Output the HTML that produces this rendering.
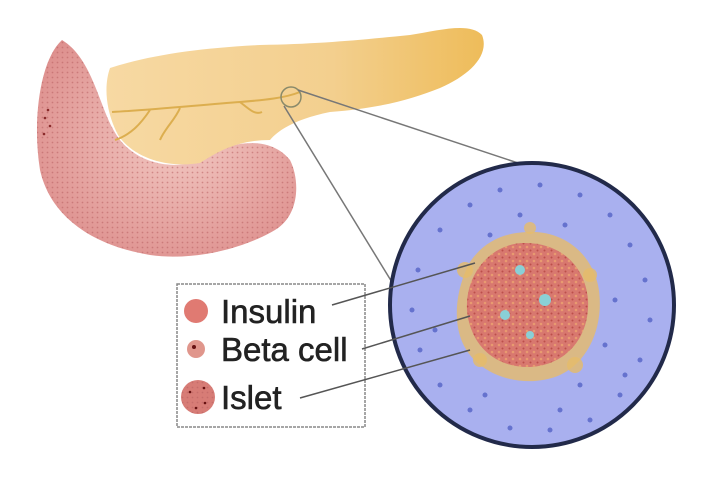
<!DOCTYPE html>
<html><head><style>
html,body{margin:0;padding:0;background:#fff;}
svg{display:block}
text{font-family:"Liberation Sans",sans-serif;fill:#222;stroke:#222;stroke-width:0.6}
</style></head><body>
<svg width="714" height="490" viewBox="0 0 714 490" xmlns="http://www.w3.org/2000/svg">
<defs>
<pattern id="dots" width="5" height="5" patternUnits="userSpaceOnUse">
<circle cx="2.5" cy="2.5" r="0.9" fill="#b85f60" opacity="0.55"/>
</pattern>
<pattern id="odots" width="7" height="7" patternUnits="userSpaceOnUse">
<circle cx="2" cy="2" r="1.3" fill="#f2b070"/><circle cx="5.5" cy="5.5" r="1" fill="#a33"/>
</pattern>
<radialGradient id="pk" cx="55%" cy="45%" r="65%">
<stop offset="0" stop-color="#f3cac4"/><stop offset="1" stop-color="#dd8e8c"/>
</radialGradient>
<linearGradient id="yl" x1="0" x2="1">
<stop offset="0" stop-color="#f7d9a3"/><stop offset="0.6" stop-color="#f3cf8e"/><stop offset="1" stop-color="#eebc5a"/>
</linearGradient>
</defs>
<path d="M62 40 C40 60 32 120 40 170 C50 215 90 245 150 255 C200 262 250 245 275 230 C300 215 300 180 290 160 C270 135 230 140 200 160 C175 170 140 165 120 140 C100 115 95 60 62 40 Z" fill="url(#pk)"/>
<path d="M62 40 C40 60 32 120 40 170 C50 215 90 245 150 255 C200 262 250 245 275 230 C300 215 300 180 290 160 C270 135 230 140 200 160 C175 170 140 165 120 140 C100 115 95 60 62 40 Z" fill="url(#dots)"/>
<g fill="#8a2a2a"><circle cx="48" cy="110" r="1.3"/><circle cx="45" cy="118" r="1.3"/><circle cx="50" cy="126" r="1.3"/><circle cx="44" cy="134" r="1.3"/></g>
<path d="M110 68 C150 55 200 48 260 45 C320 44 360 40 410 35 C440 30 470 22 482 35 C490 55 470 75 440 88 C410 100 380 108 330 112 C300 118 280 128 270 140 C240 140 220 150 200 163 C170 168 135 160 118 135 C105 110 104 85 110 68 Z" fill="url(#yl)"/>
<path d="M112 112 C150 110 200 105 240 102 C265 100 285 98 300 92 M150 110 C140 125 130 135 115 140 M180 108 C175 120 165 128 160 140 M240 102 C250 110 255 115 262 112" stroke="#dcae4f" stroke-width="2" fill="none"/>
<circle cx="291" cy="97" r="10" fill="none" stroke="#8a8a6a" stroke-width="1.5"/>
<line x1="298" y1="90" x2="518" y2="163" stroke="#777" stroke-width="1.5"/>
<line x1="284" y1="106" x2="398" y2="292" stroke="#777" stroke-width="1.5"/>
<circle cx="532" cy="305" r="142" fill="#a9b0ef" stroke="#222a4a" stroke-width="4"/>
<g fill="#5a68c9" opacity="0.85">
<circle cx="440" cy="230" r="2.5"/><circle cx="470" cy="205" r="2.5"/><circle cx="500" cy="190" r="2.5"/><circle cx="540" cy="185" r="2.5"/><circle cx="580" cy="195" r="2.5"/><circle cx="610" cy="215" r="2.5"/><circle cx="630" cy="245" r="2.5"/><circle cx="645" cy="280" r="2.5"/><circle cx="650" cy="320" r="2.5"/><circle cx="640" cy="360" r="2.5"/><circle cx="620" cy="395" r="2.5"/><circle cx="590" cy="420" r="2.5"/><circle cx="550" cy="430" r="2.5"/><circle cx="510" cy="428" r="2.5"/><circle cx="470" cy="410" r="2.5"/><circle cx="440" cy="385" r="2.5"/><circle cx="420" cy="350" r="2.5"/><circle cx="412" cy="310" r="2.5"/><circle cx="418" cy="270" r="2.5"/><circle cx="615" cy="300" r="2.5"/><circle cx="605" cy="345" r="2.5"/><circle cx="580" cy="385" r="2.5"/><circle cx="520" cy="215" r="2.5"/><circle cx="565" cy="225" r="2.5"/><circle cx="490" cy="235" r="2.5"/><circle cx="625" cy="375" r="2.5"/><circle cx="560" cy="410" r="2.5"/><circle cx="435" cy="330" r="2.5"/><circle cx="485" cy="395" r="2.5"/>
</g>
<path d="M527 232 C560 230 590 250 598 285 C605 320 592 360 560 375 C530 388 490 380 470 355 C450 330 455 290 470 262 C485 240 505 233 527 232 Z" fill="#e6bc6a" opacity="0.8"/>
<g fill="#e6bc6a" opacity="0.8"><circle cx="465" cy="270" r="8"/><circle cx="590" cy="275" r="7"/><circle cx="575" cy="365" r="8"/><circle cx="480" cy="360" r="7"/><circle cx="530" cy="228" r="6"/></g>
<path d="M525 243 C560 243 585 265 588 300 C590 335 568 365 530 367 C495 368 470 345 467 310 C465 275 490 243 525 243 Z" fill="#d8786f"/>
<path d="M525 243 C560 243 585 265 588 300 C590 335 568 365 530 367 C495 368 470 345 467 310 C465 275 490 243 525 243 Z" fill="url(#odots)" opacity="0.6"/>
<g fill="#8ad0d6"><circle cx="520" cy="270" r="5"/><circle cx="545" cy="300" r="6"/><circle cx="505" cy="315" r="5"/><circle cx="530" cy="335" r="4"/></g>
<rect x="177" y="284" width="188" height="143" fill="#fff" stroke="#888" stroke-width="1.5" stroke-dasharray="3 1"/>
<circle cx="196" cy="311" r="12" fill="#e07a72"/>
<circle cx="196" cy="349" r="9" fill="#e0968c"/><circle cx="194" cy="347" r="2" fill="#611"/>
<circle cx="198" cy="397" r="17" fill="#d77c76"/><circle cx="198" cy="397" r="17" fill="url(#dots)"/>
<g fill="#611"><circle cx="190" cy="392" r="1.3"/><circle cx="205" cy="403" r="1.3"/><circle cx="196" cy="408" r="1.3"/><circle cx="204" cy="388" r="1.3"/></g>
<text x="221" y="323" font-size="33">Insulin</text>
<text x="221" y="361" font-size="33">Beta cell</text>
<text x="221" y="409" font-size="33">Islet</text>
<line x1="332" y1="305" x2="475" y2="263" stroke="#555" stroke-width="1.5"/>
<line x1="362" y1="349" x2="470" y2="316" stroke="#555" stroke-width="1.5"/>
<line x1="300" y1="398" x2="470" y2="350" stroke="#555" stroke-width="1.5"/>
</svg>
</body></html>
